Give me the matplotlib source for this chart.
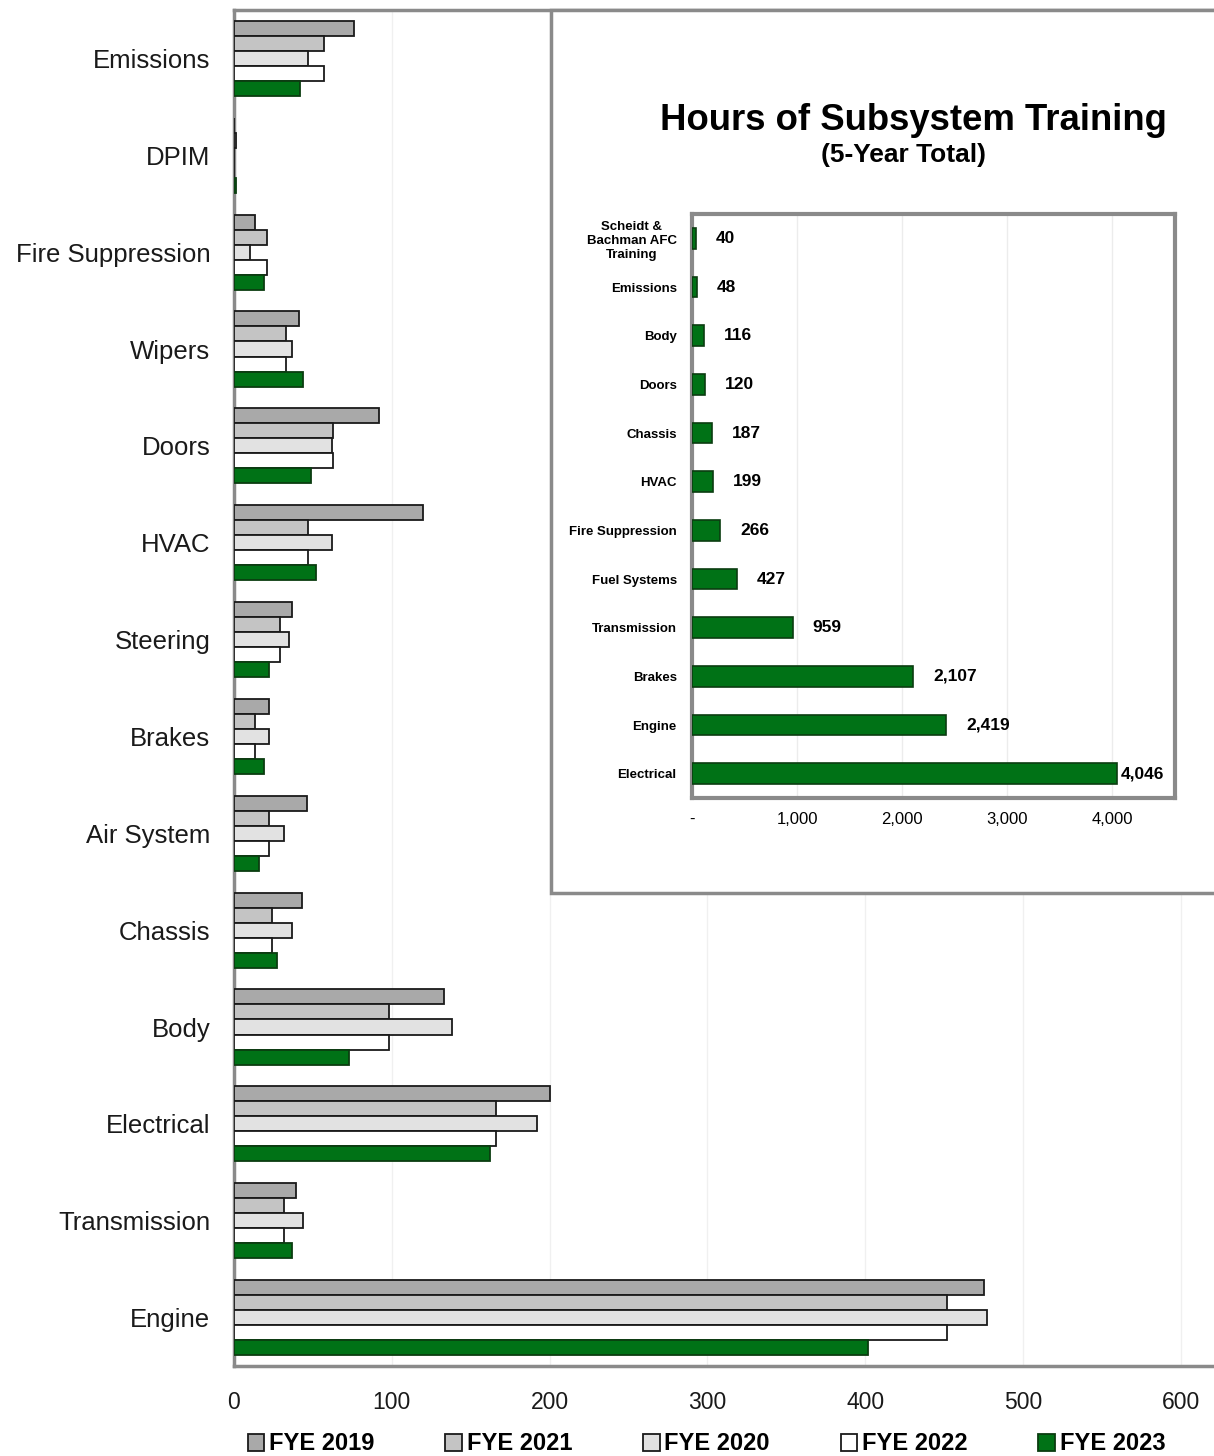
import numpy as np
import matplotlib
matplotlib.use('Agg')
import matplotlib.pyplot as plt
from matplotlib.patches import Rectangle
from matplotlib.ticker import FuncFormatter

plt.rcParams['font.family'] = ['Liberation Sans', 'DejaVu Sans']

# main chart data (hours per year), top to bottom
subsystems = ['Emissions', 'DPIM', 'Fire Suppression', 'Wipers', 'Doors', 'HVAC',
              'Steering', 'Brakes', 'Air System', 'Chassis', 'Body', 'Electrical',
              'Transmission', 'Engine']
series_names = ['FYE 2019', 'FYE 2021', 'FYE 2020', 'FYE 2022', 'FYE 2023']
fye2019 = [76, 0, 13, 41, 92, 120, 37, 22, 46, 43, 133, 200, 39, 475]
fye2021 = [57, 1, 21, 33, 63, 47, 29, 13, 22, 24, 98, 166, 32, 452]
fye2020 = [47, 0, 10, 37, 62, 62, 35, 22, 32, 37, 138, 192, 44, 477]
fye2022 = [57, 0, 21, 33, 63, 47, 29, 13, 22, 24, 98, 166, 32, 452]
fye2023 = [42, 1, 19, 44, 49, 52, 22, 19, 16, 27, 73, 162, 37, 402]
bar_colors = ['#a9a9a9', '#c4c4c4', '#e2e2e2', '#ffffff', '#007216']

# inset data (5-year totals)
inset_labels = ['Scheidt &\nBachman AFC\nTraining', 'Emissions', 'Body', 'Doors',
                'Chassis', 'HVAC', 'Fire Suppression', 'Fuel Systems',
                'Transmission', 'Brakes', 'Engine', 'Electrical']
inset_hours = [40, 48, 116, 120, 187, 199, 266, 427, 959, 2107, 2419, 4046]

W, H = 1214, 1456
fig = plt.figure(figsize=(W / 100, H / 100), dpi=100)

# ---- main grouped bar chart
ax = fig.add_axes([234 / W, 1 - 1366 / H, 1 - 234 / W, (1366 - 10) / H])
y = np.arange(len(subsystems))
bh = 0.155
all_series = [fye2019, fye2021, fye2020, fye2022, fye2023]
handles = []
for j, vals in enumerate(all_series):
    ec = '#1a1a1a' if j < 4 else '#0b3d10'
    b = ax.barh(y + (j - 2) * bh, vals, height=bh, color=bar_colors[j],
                edgecolor=ec, linewidth=1.3, label=series_names[j], zorder=3)
    handles.append(b)

ax.set_ylim(len(subsystems) - 0.5, -0.5)
ax.set_xlim(0, 621)
ax.set_yticks(y)
ax.set_yticklabels(subsystems, fontsize=18.5, color='#1a1a1a')
ax.set_xticks(np.arange(0, 601, 100))
ax.tick_params(axis='y', length=0, pad=17)
ax.tick_params(axis='x', length=0, pad=18, labelsize=16.5, labelcolor='#1a1a1a')
ax.grid(axis='x', color='#f0f0f0', linewidth=1, zorder=0)
for s in ['left', 'bottom', 'top']:
    ax.spines[s].set_color('#8a8a8a')
    ax.spines[s].set_linewidth(2.5)
ax.spines['right'].set_visible(False)

leg = fig.legend(handles=handles, loc='center', bbox_to_anchor=(0.582, 1 - 1444 / H),
                 ncol=5, frameon=False, handlelength=0.7, handleheight=0.7,
                 handletextpad=0.2, columnspacing=3.0,
                 prop={'weight': 'bold', 'size': 17})

# ---- inset panel
box = Rectangle((551 / W, 1 - 893 / H), (W - 551) / W + 0.01, (893 - 10) / H,
                transform=fig.transFigure, facecolor='white', edgecolor='#8a8a8a',
                linewidth=2.5, zorder=5)
fig.patches.append(box)

fig.text(913 / W, 1 - 120 / H, 'Hours of Subsystem Training', ha='center', va='center',
         fontsize=26.3, fontweight='bold', zorder=6)
fig.text(903 / W, 1 - 155 / H, '(5-Year Total)', ha='center', va='center',
         fontsize=19, fontweight='bold', zorder=6)

ax2 = fig.add_axes([692 / W, 1 - 798 / H, (1175 - 692) / W, (798 - 214) / H])
ax2.set_zorder(10)
yi = np.arange(len(inset_labels))
ax2.barh(yi, inset_hours, height=0.42, color='#007216', edgecolor='#0b3d10',
         linewidth=1.2, zorder=3)
ax2.set_ylim(len(inset_labels) - 0.5, -0.5)
ax2.set_xlim(0, 4600)
ax2.set_yticks(yi)
ax2.set_yticklabels(inset_labels, fontsize=9.5, fontweight='bold')
ax2.get_yticklabels()[0].set_multialignment('center')
ax2.set_xticks(np.arange(0, 4001, 1000))
ax2.xaxis.set_major_formatter(FuncFormatter(lambda v, p: '-' if v == 0 else f'{v:,.0f}'))
ax2.tick_params(axis='y', length=0, pad=11)
ax2.tick_params(axis='x', length=0, pad=10, labelsize=12)
ax2.grid(axis='x', color='#ececec', linewidth=1, zorder=0)
for s in ax2.spines.values():
    s.set_color('#8a8a8a')
    s.set_linewidth(3)
for yy, v in zip(yi, inset_hours):
    xpos = v + 190 if v < 4000 else v + 40
    ax2.text(xpos, yy, f'{v:,}', va='center', ha='left', fontsize=12.5,
             fontweight='bold')

fig.savefig('out.png', dpi=100)
